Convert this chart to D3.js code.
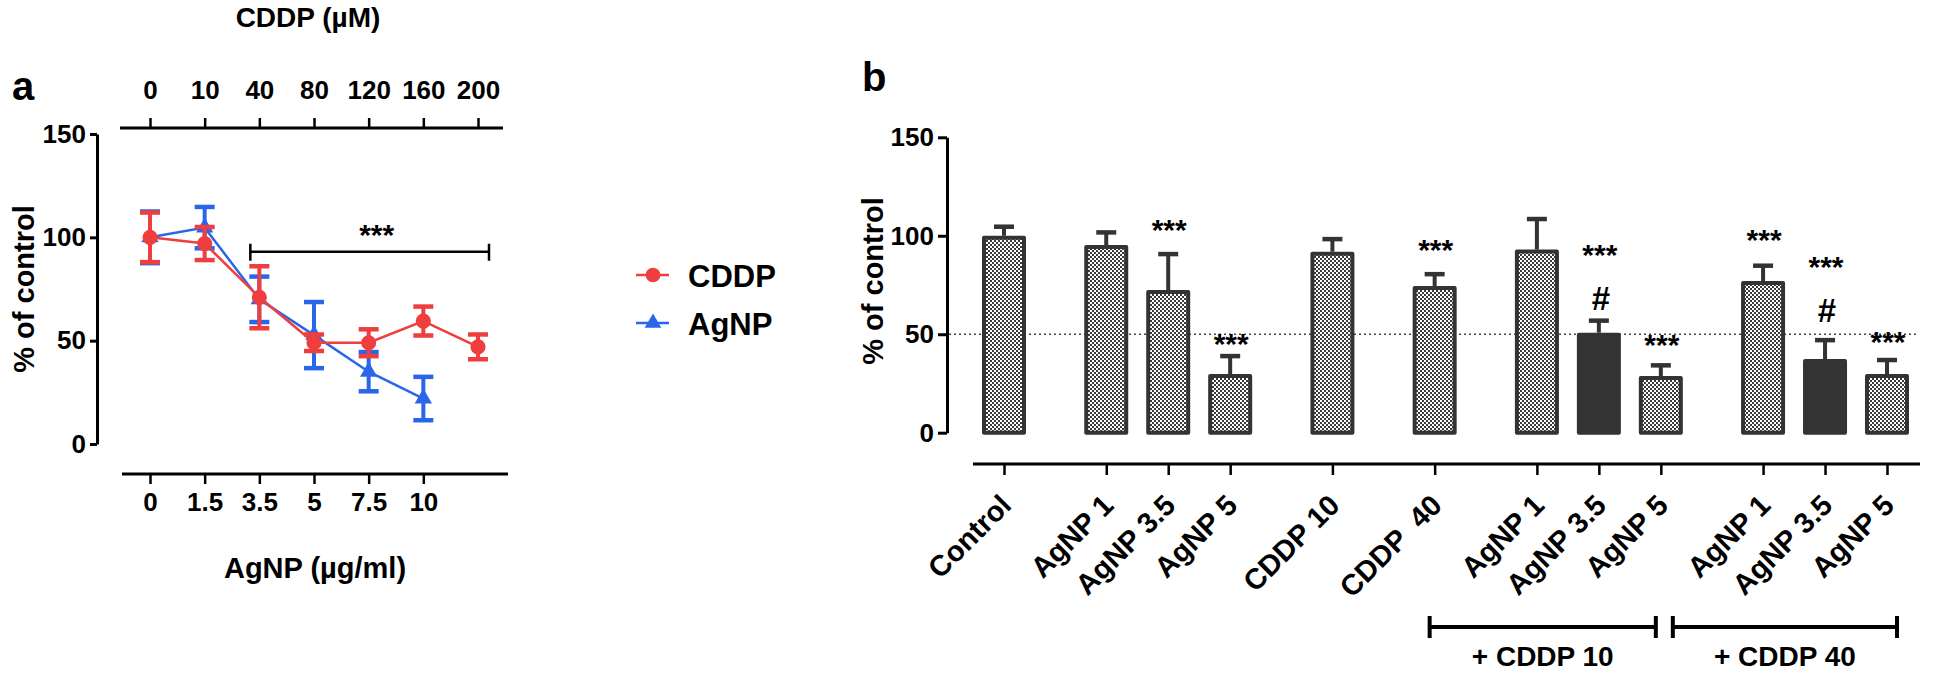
<!DOCTYPE html>
<html>
<head>
<meta charset="utf-8">
<script src="https://cdn.jsdelivr.net/npm/d3@7"></script>
<style>
  body { margin: 0; background: #fff; }
  text { font-family: "Liberation Sans", Arial, sans-serif; font-weight: bold; fill: #000; }
</style>
</head>
<body>
<div id="chart"></div>
<script>
// panel a: dose response
const cddpTicks = ['0', '10', '40', '80', '120', '160', '200'];
const agnpTicks = ['0', '1.5', '3.5', '5', '7.5', '10'];
const cddpMean = [100, 97, 71, 49, 49, 59.5, 47];
const cddpErr = [12, 8, 15, 4, 6.5, 7, 6];
const agnpMean = [100, 104.7, 70, 52.7, 35, 22];
const agnpErr = [12.5, 10, 11, 16, 9.5, 10.5];
const yTicks = [0, 50, 100, 150];

// panel b: combinations
const bLabels = ['Control', 'AgNP 1', 'AgNP 3.5', 'AgNP 5', 'CDDP 10', 'CDDP  40',
  'AgNP 1', 'AgNP 3.5', 'AgNP 5', 'AgNP 1', 'AgNP 3.5', 'AgNP 5'];
const bGroup = ['ctrl', 'agnp', 'agnp', 'agnp', 'cddp10', 'cddp40',
  'c10', 'c10', 'c10', 'c40', 'c40', 'c40'];
const bMean = [100, 95.3, 72.4, 29.8, 91.9, 74.5, 93, 50.8, 28.8, 77, 37.4, 29.8];
const bErr = [4.6, 6.4, 18.3, 9.1, 6.4, 6, 15.5, 6.1, 5.4, 7.8, 9.6, 7.1];
const bStars = [null, null, 106.5, 48.7, null, 96.4, null, 93.8, 48.1, 101.5, 87.7, 49.6];
const bHash = [null, null, null, null, null, null, null, 68.4, null, null, 62.3, null];
const bGroupLabels = ['+ CDDP 10', '+ CDDP 40'];

const red = '#ef3e3e', blue = '#2a66ea', dark = '#333';

const svg = d3.select('#chart').append('svg')
  .attr('width', 1960)
  .attr('height', 674);

// checkered fill used by the bars
const defs = svg.append('defs');
const pat = defs.append('pattern')
  .attr('id', 'dots')
  .attr('patternUnits', 'userSpaceOnUse')
  .attr('width', 4).attr('height', 4);
pat.append('rect').attr('width', 4).attr('height', 4).attr('fill', '#3a3a3a');
pat.append('rect').attr('x', 0).attr('y', 0).attr('width', 2).attr('height', 2).attr('fill', '#fff');
pat.append('rect').attr('x', 2).attr('y', 2).attr('width', 2).attr('height', 2).attr('fill', '#fff');

function styleAxis(g, size) {
  g.selectAll('path, line').attr('stroke', '#000').attr('stroke-width', 3);
  g.selectAll('text').style('font-size', size + 'px').attr('fill', '#000');
}

// ---------- panel a ----------
const xa = d3.scalePoint().domain(d3.range(7)).range([150, 478]);
const ya = d3.scaleLinear().domain([0, 150]).range([444, 134]);

svg.append('text').attr('x', 12).attr('y', 100).style('font-size', '40px').text('a');
svg.append('text').attr('x', 308).attr('y', 27).attr('text-anchor', 'middle')
  .style('font-size', '28px').text('CDDP (µM)');

// top axis (CDDP)
const topAx = svg.append('g').attr('transform', 'translate(0,128)')
  .call(d3.axisTop(xa).tickSize(10).tickPadding(19).tickFormat(i => cddpTicks[i]));
topAx.select('.domain').remove();
styleAxis(topAx, 26);
topAx.selectAll('line').attr('stroke-width', 2.5);
svg.append('line').attr('x1', 120).attr('x2', 503).attr('y1', 128).attr('y2', 128)
  .attr('stroke', '#000').attr('stroke-width', 3);

// bottom axis (AgNP)
const botAx = svg.append('g').attr('transform', 'translate(0,474)')
  .call(d3.axisBottom(xa).tickValues(d3.range(agnpTicks.length))
    .tickSize(10).tickPadding(9).tickFormat(i => agnpTicks[i]));
botAx.select('.domain').remove();
styleAxis(botAx, 26);
botAx.selectAll('line').attr('stroke-width', 2.5);
svg.append('line').attr('x1', 122).attr('x2', 508).attr('y1', 474).attr('y2', 474)
  .attr('stroke', '#000').attr('stroke-width', 3);
svg.append('text').attr('x', 315).attr('y', 578).attr('text-anchor', 'middle')
  .style('font-size', '29px').text('AgNP (µg/ml)');

// y axis
const leftA = svg.append('g').attr('transform', 'translate(97,0)')
  .call(d3.axisLeft(ya).tickValues(yTicks).tickSize(7).tickSizeOuter(0).tickPadding(4));
styleAxis(leftA, 26);
svg.append('text').attr('transform', 'translate(34,289) rotate(-90)')
  .attr('text-anchor', 'middle').style('font-size', '29px').text('% of control');

function series(mean, err, color, marker) {
  const g = svg.append('g');
  const line = d3.line().x((d, i) => xa(i)).y(d => ya(d));
  g.append('path').datum(mean).attr('d', line)
    .attr('fill', 'none').attr('stroke', color).attr('stroke-width', 2.5);
  mean.forEach((m, i) => {
    const x = xa(i);
    g.append('line').attr('x1', x).attr('x2', x)
      .attr('y1', ya(m - err[i])).attr('y2', ya(m + err[i]))
      .attr('stroke', color).attr('stroke-width', 4);
    [m - err[i], m + err[i]].forEach(v => {
      g.append('line').attr('x1', x - 10).attr('x2', x + 10)
        .attr('y1', ya(v)).attr('y2', ya(v))
        .attr('stroke', color).attr('stroke-width', 4.5);
    });
  });
  g.selectAll('.mk').data(mean).enter().append('path')
    .attr('transform', (d, i) => `translate(${xa(i)},${ya(d)})`)
    .attr('d', d3.symbol().type(marker).size(marker === d3.symbolCircle ? 180 : 130))
    .attr('fill', color);
}
series(agnpMean, agnpErr, blue, d3.symbolTriangle);
series(cddpMean, cddpErr, red, d3.symbolCircle);

// significance bracket
const by = ya(93);
svg.append('path')
  .attr('d', `M${xa(2) - 9},${by - 8}V${by + 9}M${xa(2) - 9},${by}H${xa(6) + 11}M${xa(6) + 11},${by - 8}V${by + 9}`)
  .attr('stroke', '#000').attr('stroke-width', 2.5).attr('fill', 'none');
svg.append('text').attr('x', (xa(2) + xa(6)) / 2 + 8).attr('y', ya(104.5) + 17)
  .attr('text-anchor', 'middle').style('font-size', '30px').text('***');

// legend
const legend = [['CDDP', red, d3.symbolCircle], ['AgNP', blue, d3.symbolTriangle]];
legend.forEach((d, i) => {
  const y = 275 + i * 48;
  svg.append('line').attr('x1', 636).attr('x2', 669).attr('y1', y).attr('y2', y)
    .attr('stroke', d[1]).attr('stroke-width', 2.5);
  svg.append('path').attr('transform', `translate(653,${y})`)
    .attr('d', d3.symbol().type(d[2]).size(d[2] === d3.symbolCircle ? 170 : 120))
    .attr('fill', d[1]);
  svg.append('text').attr('x', 688).attr('y', y + 12).style('font-size', '31px').text(d[0]);
});

// ---------- panel b ----------
// bars sit one slot apart, with a wider gap wherever the group changes
let slot = 0;
const bPos = bGroup.map((g, i) => {
  if (i > 0) { slot += 1; if (g !== bGroup[i - 1]) slot += 0.65; }
  return slot;
});
const xb = d3.scaleLinear().domain([0, slot]).range([1004, 1887]);
const yb = d3.scaleLinear().domain([0, 150]).range([432.7, 137.3]);
const barW = 44;

svg.append('text').attr('x', 862).attr('y', 91).style('font-size', '40px').text('b');

const leftB = svg.append('g').attr('transform', 'translate(947,0)')
  .call(d3.axisLeft(yb).tickValues(yTicks).tickSize(9).tickSizeOuter(0).tickPadding(4));
styleAxis(leftB, 26);
svg.append('text').attr('transform', 'translate(883,281) rotate(-90)')
  .attr('text-anchor', 'middle').style('font-size', '29px').text('% of control');

// 50% reference
svg.append('line').attr('x1', 949).attr('x2', 1918).attr('y1', yb(50)).attr('y2', yb(50))
  .attr('stroke', '#444').attr('stroke-width', 1.6).attr('stroke-dasharray', '2,3');

// error bars (upper only)
bMean.forEach((m, i) => {
  const x = xb(bPos[i]);
  svg.append('line').attr('x1', x).attr('x2', x).attr('y1', yb(m)).attr('y2', yb(m + bErr[i]))
    .attr('stroke', dark).attr('stroke-width', 4);
  svg.append('line').attr('x1', x - 10).attr('x2', x + 10)
    .attr('y1', yb(m + bErr[i])).attr('y2', yb(m + bErr[i]))
    .attr('stroke', dark).attr('stroke-width', 4.5);
});

svg.selectAll('.bar').data(bMean).enter().append('rect')
  .attr('class', 'bar')
  .attr('x', (d, i) => xb(bPos[i]) - barW / 2 + 2)
  .attr('width', barW - 4)
  .attr('y', d => yb(d) + 2)
  .attr('height', d => yb(0) - yb(d) - 2)
  .attr('fill', (d, i) => bHash[i] != null ? dark : 'url(#dots)')
  .attr('stroke', dark).attr('stroke-width', 4).attr('stroke-linejoin', 'round');

bStars.forEach((v, i) => {
  if (v == null) return;
  svg.append('text').attr('x', xb(bPos[i]) + 1).attr('y', yb(v) + 17)
    .attr('text-anchor', 'middle').style('font-size', '30px').text('***');
});
bHash.forEach((v, i) => {
  if (v == null) return;
  svg.append('text').attr('x', xb(bPos[i]) + 2).attr('y', yb(v) + 12)
    .attr('text-anchor', 'middle').style('font-size', '33px').text('#');
});

// x axis b
const botB = svg.append('g').attr('transform', 'translate(0,464)')
  .call(d3.axisBottom(xb).tickValues(bPos).tickSize(11).tickFormat(''));
botB.select('.domain').remove();
styleAxis(botB, 26);
botB.selectAll('line').attr('stroke-width', 2.5);
svg.append('line').attr('x1', 973).attr('x2', 1920).attr('y1', 464).attr('y2', 464)
  .attr('stroke', '#000').attr('stroke-width', 3);

svg.selectAll('.blab').data(bLabels).enter().append('text')
  .attr('class', 'blab')
  .attr('transform', (d, i) => `translate(${xb(bPos[i]) + 9},507) rotate(-45)`)
  .attr('text-anchor', 'end')
  .style('font-size', '29px')
  .style('white-space', 'pre')
  .text(d => d);

// group brackets
const brackets = [
  [xb(bPos[5]) - 5, xb(bPos[8]) - 5],
  [xb(bPos[8]) + 12, xb(bPos[11]) + 10]
];
brackets.forEach((b, i) => {
  const y = 627;
  svg.append('path')
    .attr('d', `M${b[0]},${y - 11}V${y + 11}M${b[0]},${y}H${b[1]}M${b[1]},${y - 11}V${y + 11}`)
    .attr('stroke', '#000').attr('stroke-width', 4).attr('fill', 'none');
  svg.append('text').attr('x', (b[0] + b[1]) / 2).attr('y', 666)
    .attr('text-anchor', 'middle').style('font-size', '28px').text(bGroupLabels[i]);
});
</script>
</body>
</html>
